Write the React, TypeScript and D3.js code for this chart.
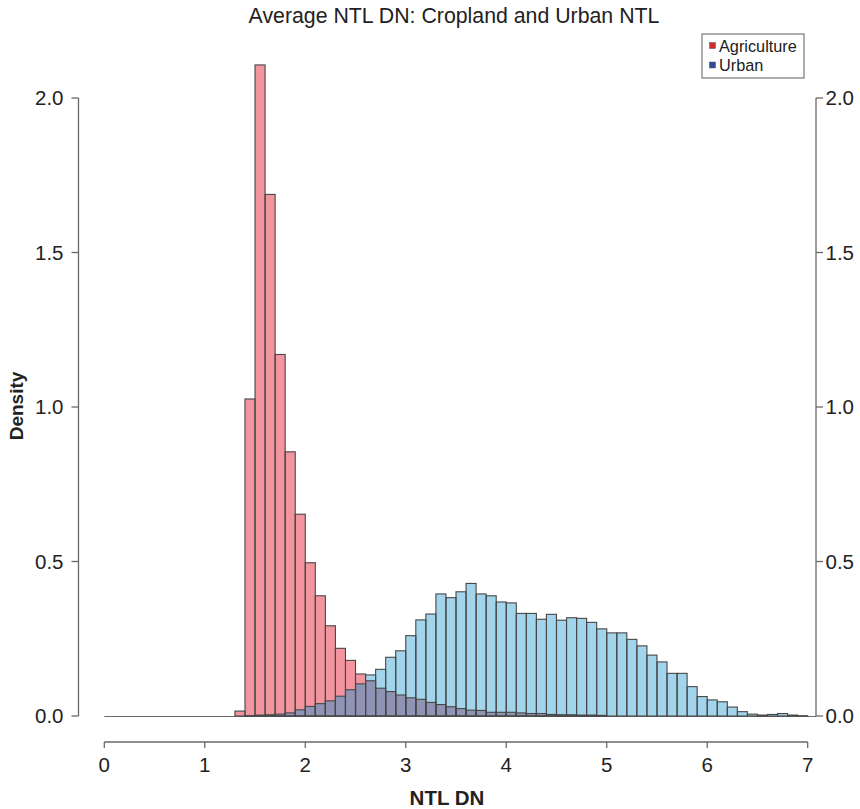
import React from 'react';
import * as d3 from 'd3';

const title = 'Average NTL DN: Cropland and Urban NTL';
const xLabel = 'NTL DN';
const yLabel = 'Density';
const seriesNames = ['Agriculture', 'Urban'];
const binWidth = 0.1;

// Agriculture histogram densities, bins of width 0.1 starting at 1.3
const agStart = 1.3;
const agDensity = [
  0.016, 1.026, 2.107, 1.688, 1.17, 0.855, 0.653, 0.496, 0.389, 0.292,
  0.219, 0.18, 0.136, 0.114, 0.09, 0.079, 0.068, 0.059, 0.054, 0.044,
  0.037, 0.03, 0.024, 0.019, 0.018, 0.012, 0.012, 0.012, 0.01, 0.008,
  0.008, 0.005, 0.004, 0.004, 0.003, 0.003, 0.002,
];

// Urban histogram densities, bins of width 0.1 starting at 1.4
const urbanStart = 1.4;
const urbanDensity = [
  0.001, 0.003, 0.004, 0.006, 0.01, 0.02, 0.031, 0.04, 0.049, 0.064,
  0.085, 0.104, 0.133, 0.151, 0.19, 0.211, 0.26, 0.311, 0.33, 0.395,
  0.383, 0.402, 0.429, 0.395, 0.389, 0.369, 0.366, 0.332, 0.332, 0.313,
  0.329, 0.31, 0.318, 0.316, 0.303, 0.282, 0.269, 0.269, 0.248, 0.227,
  0.197, 0.175, 0.138, 0.138, 0.095, 0.063, 0.052, 0.046, 0.029, 0.014,
  0.006, 0.003, 0.005, 0.008, 0.003, 0.001,
];

const xTicks = [0, 1, 2, 3, 4, 5, 6, 7];
const yTicks = [0, 0.5, 1.0, 1.5, 2.0];

const FONT = '"Liberation Sans", Arial, Helvetica, sans-serif';
const AX = '#6d6767';
const STROKE = '#474747';
const PINK = '#f3959f';
const BLUE = '#a2d4eb';
const PURPLE = '#8f93b4';

export default function App() {
  const W = 860;
  const H = 809;
  const leftAxisX = 78.5;
  const rightAxisX = 816;
  const xAxisY = 742;

  const x = d3.scaleLinear().domain([0, 7]).range([104.3, 807.7]);
  const y = d3.scaleLinear().domain([0, 2]).range([716, 98]);

  const toKey = (v: number) => Math.round(v / binWidth);
  const agMap = new Map<number, number>();
  agDensity.forEach((d, i) => agMap.set(toKey(agStart) + i, d));
  const urMap = new Map<number, number>();
  urbanDensity.forEach((d, i) => urMap.set(toKey(urbanStart) + i, d));
  const keys = Array.from(new Set([...agMap.keys(), ...urMap.keys()])).sort((a, b) => a - b);

  const bins = keys.map((k) => ({
    x0: k * binWidth,
    x1: (k + 1) * binWidth,
    ag: agMap.get(k) ?? 0,
    ur: urMap.get(k) ?? 0,
  }));

  const rect = (x0: number, x1: number, v: number) => ({
    x: x(x0),
    y: y(v),
    width: x(x1) - x(x0),
    height: y(0) - y(v),
  });

  return (
    <svg
      width={W}
      height={H}
      style={{ position: 'absolute', left: 0, top: 0, background: '#fff' }}
      fontFamily={FONT}
    >
      <rect x={0} y={0} width={W} height={H} fill="#fff" />
      <text x={454} y={23} textAnchor="middle" fontSize={21.3} fill="#222">
        {title}
      </text>

      {/* baseline */}
      <line x1={x(0)} x2={rightAxisX} y1={y(0) + 0.5} y2={y(0) + 0.5} stroke={AX} strokeWidth={1.2} />

      {/* fills */}
      {bins.map((b, i) => (
        <g key={'f' + i}>
          {b.ag > 0 && <rect {...rect(b.x0, b.x1, b.ag)} fill={PINK} />}
          {b.ur > 0 && <rect {...rect(b.x0, b.x1, b.ur)} fill={BLUE} />}
          {Math.min(b.ag, b.ur) > 0 && <rect {...rect(b.x0, b.x1, Math.min(b.ag, b.ur))} fill={PURPLE} />}
        </g>
      ))}
      {/* outlines */}
      {bins.map((b, i) => (
        <g key={'o' + i} fill="none" stroke={STROKE} strokeWidth={1.1}>
          {b.ag > 0 && <rect {...rect(b.x0, b.x1, b.ag)} />}
          {b.ur > 0 && <rect {...rect(b.x0, b.x1, b.ur)} />}
        </g>
      ))}

      {/* left axis */}
      <line x1={leftAxisX} x2={leftAxisX} y1={y(2)} y2={y(0)} stroke={AX} strokeWidth={1.3} />
      {yTicks.map((t) => (
        <g key={'yl' + t}>
          <line x1={leftAxisX - 7} x2={leftAxisX} y1={y(t)} y2={y(t)} stroke={AX} strokeWidth={1.3} />
          <text x={63.5} y={y(t)} dy="0.36em" textAnchor="end" fontSize={20.5} fill="#222">
            {t.toFixed(1)}
          </text>
        </g>
      ))}

      {/* right axis */}
      <line x1={rightAxisX} x2={rightAxisX} y1={y(2)} y2={y(0)} stroke={AX} strokeWidth={1.3} />
      {yTicks.map((t) => (
        <g key={'yr' + t}>
          <line x1={rightAxisX} x2={rightAxisX + 7} y1={y(t)} y2={y(t)} stroke={AX} strokeWidth={1.3} />
          <text x={825.5} y={y(t)} dy="0.36em" textAnchor="start" fontSize={20.5} fill="#222">
            {t.toFixed(1)}
          </text>
        </g>
      ))}

      {/* x axis */}
      <line x1={x(0)} x2={x(7)} y1={xAxisY} y2={xAxisY} stroke={AX} strokeWidth={1.3} />
      {xTicks.map((t) => (
        <g key={'x' + t}>
          <line x1={x(t)} x2={x(t)} y1={xAxisY} y2={xAxisY + 6} stroke={AX} strokeWidth={1.3} />
          <text x={x(t)} y={771.5} textAnchor="middle" fontSize={20.5} fill="#222">
            {t}
          </text>
        </g>
      ))}

      {/* axis titles */}
      <text x={447} y={805} textAnchor="middle" fontSize={20.5} fontWeight="bold" fill="#222">
        {xLabel}
      </text>
      <text
        transform={`translate(23,406) rotate(-90)`}
        textAnchor="middle"
        fontSize={19}
        fontWeight="bold"
        fill="#222"
      >
        {yLabel}
      </text>

      {/* legend */}
      <rect x={702} y={34} width={102} height={44} fill="#fff" stroke="#777" strokeWidth={1.2} />
      {seriesNames.map((name, i) => (
        <g key={name}>
          <rect x={709.5} y={42.5 + i * 19.5} width={6} height={6} fill={i === 0 ? '#cc2f2a' : '#34489a'} stroke="#555" strokeWidth={0.5} />
          <text x={719} y={51.5 + i * 19.5} fontSize={16.3} fill="#222">
            {name}
          </text>
        </g>
      ))}
    </svg>
  );
}
